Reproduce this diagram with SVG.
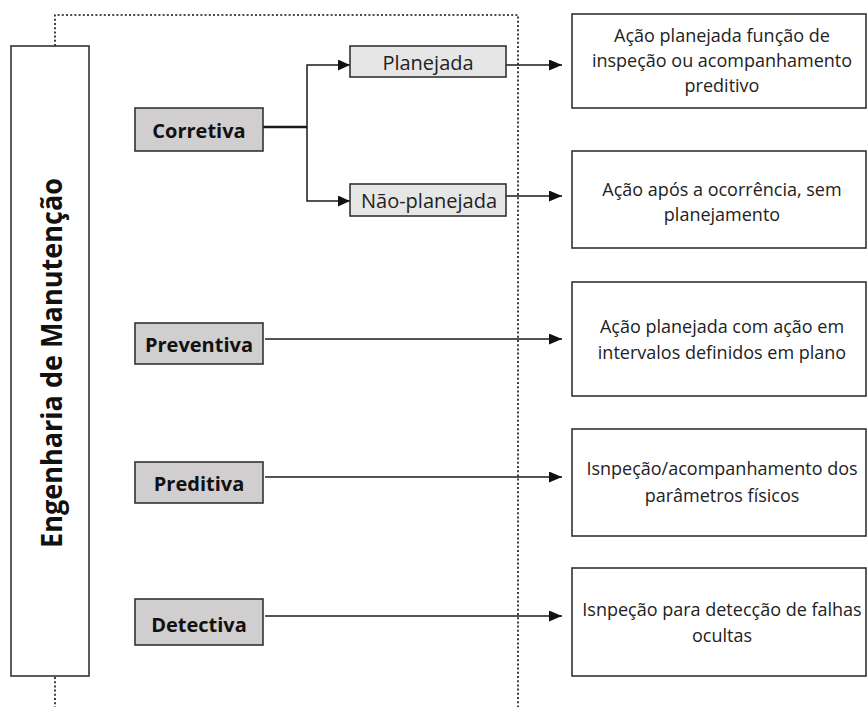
<svg xmlns="http://www.w3.org/2000/svg" width="868" height="707" viewBox="0 0 868 707">
  <style>
    .bg { fill: #ffffff; }
    .frame { fill: none; stroke: #111; stroke-width: 1.6; stroke-dasharray: 2 2.2; }
    .main { fill: #ffffff; stroke: #333; stroke-width: 1.6; }
    .type { fill: #d0cece; stroke: #333; stroke-width: 1.6; }
    .sub { fill: #e6e6e6; stroke: #333; stroke-width: 1.6; }
    .desc { fill: #ffffff; stroke: #333; stroke-width: 1.6; }
    .wire { fill: none; stroke: #1a1a1a; stroke-width: 1.5; }
    .trunk { fill: none; stroke: #1a1a1a; stroke-width: 2.5; }
    .title { font-family: "Open Sans", "DejaVu Sans", sans-serif; font-weight: bold; font-size: 28px; fill: #111; text-anchor: middle; }
    .label { font-family: "Open Sans", "DejaVu Sans", sans-serif; font-weight: bold; font-size: 20px; fill: #111; text-anchor: middle; }
    .sublabel { font-family: "Open Sans", "DejaVu Sans", sans-serif; font-size: 20px; fill: #222; text-anchor: middle; }
    .text { font-family: "Open Sans", "DejaVu Sans", sans-serif; font-size: 18px; fill: #222; text-anchor: middle; }
  </style>
  <defs>
    <marker id="arrowS" markerUnits="userSpaceOnUse" markerWidth="12" markerHeight="11" refX="12" refY="5.5" orient="auto">
      <path d="M0,0 L12,5.5 L0,11 z" fill="#111"/>
    </marker>
    <marker id="arrowL" markerUnits="userSpaceOnUse" markerWidth="13" markerHeight="11" refX="13" refY="5.5" orient="auto">
      <path d="M0,0 L13,5.5 L0,11 z" fill="#111"/>
    </marker>
  </defs>

  <rect class="bg" x="0" y="0" width="868" height="707"/>

  <!-- dotted boundary of the maintenance scope -->
  <g id="scope">
    <path class="frame" d="M55,46 V15 H518 V707"/>
    <path class="frame" d="M55,677 V707"/>
  </g>

  <!-- connectors -->
  <g id="connectors">
    <path class="trunk" d="M263,127 H307"/>
    <path class="wire" d="M307,127 V65 H350" marker-end="url(#arrowS)"/>
    <path class="wire" d="M307,127 V201 H350" marker-end="url(#arrowS)"/>
    <path class="wire" d="M506,65 H562" marker-end="url(#arrowL)"/>
    <path class="wire" d="M506,196 H562" marker-end="url(#arrowL)"/>
    <path class="wire" d="M265,339 H562" marker-end="url(#arrowL)"/>
    <path class="wire" d="M265,477 H562" marker-end="url(#arrowL)"/>
    <path class="wire" d="M265,616 H562" marker-end="url(#arrowL)"/>
  </g>

  <g id="engenharia">
    <rect class="main" x="11" y="46" width="78" height="630"/>
    <text class="title" transform="translate(62,363) rotate(-90)" textLength="370" lengthAdjust="spacingAndGlyphs">Engenharia de Manutenção</text>
  </g>

  <g id="corretiva">
    <rect class="type" x="135" y="108" width="128" height="43"/>
    <text class="label" x="199" y="137.5">Corretiva</text>
  </g>

  <g id="planejada">
    <rect class="sub" x="350" y="46" width="156" height="31"/>
    <text class="sublabel" x="428" y="70">Planejada</text>
  </g>

  <g id="nao-planejada">
    <rect class="sub" x="350" y="184" width="156" height="32"/>
    <text class="sublabel" x="429" y="208">Não-planejada</text>
  </g>

  <g id="preventiva">
    <rect class="type" x="135" y="323" width="128" height="41"/>
    <text class="label" x="199" y="351.5">Preventiva</text>
  </g>

  <g id="preditiva">
    <rect class="type" x="135" y="462" width="128" height="41"/>
    <text class="label" x="199" y="490.5">Preditiva</text>
  </g>

  <g id="detectiva">
    <rect class="type" x="135" y="599" width="128" height="46"/>
    <text class="label" x="199" y="631.5">Detectiva</text>
  </g>

  <g id="desc-planejada">
    <rect class="desc" x="572" y="14" width="294" height="94"/>
    <text class="text" x="722" y="42">Ação planejada função de</text>
    <text class="text" x="722" y="67">inspeção ou acompanhamento</text>
    <text class="text" x="722" y="92">preditivo</text>
  </g>

  <g id="desc-nao-planejada">
    <rect class="desc" x="572" y="151" width="294" height="97"/>
    <text class="text" x="722" y="196">Ação após a ocorrência, sem</text>
    <text class="text" x="722" y="221">planejamento</text>
  </g>

  <g id="desc-preventiva">
    <rect class="desc" x="572" y="282" width="294" height="114"/>
    <text class="text" x="722" y="333">Ação planejada com ação em</text>
    <text class="text" x="722" y="359">intervalos definidos em plano</text>
  </g>

  <g id="desc-preditiva">
    <rect class="desc" x="572" y="429" width="294" height="107"/>
    <text class="text" x="722" y="475">Isnpeção/acompanhamento dos</text>
    <text class="text" x="722" y="502">parâmetros físicos</text>
  </g>

  <g id="desc-detectiva">
    <rect class="desc" x="572" y="568" width="294" height="108"/>
    <text class="text" x="722" y="616">Isnpeção para detecção de falhas</text>
    <text class="text" x="722" y="642">ocultas</text>
  </g>
</svg>
